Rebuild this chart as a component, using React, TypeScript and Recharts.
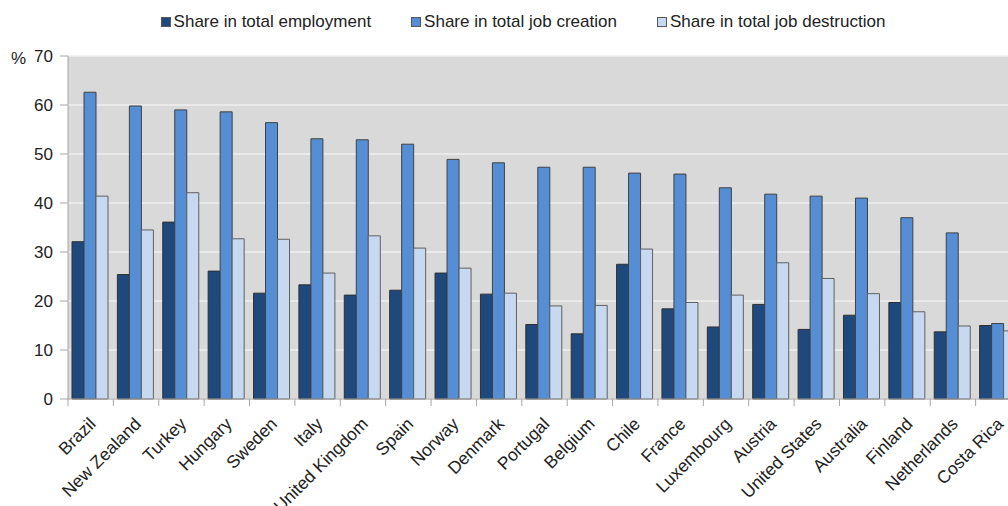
import React from 'react';
import { Bar, BarChart, CartesianGrid, Legend, XAxis, YAxis } from 'recharts';

const countries = [
  'Brazil', 'New Zealand', 'Turkey', 'Hungary', 'Sweden', 'Italy', 'United Kingdom',
  'Spain', 'Norway', 'Denmark', 'Portugal', 'Belgium', 'Chile', 'France', 'Luxembourg',
  'Austria', 'United States', 'Australia', 'Finland', 'Netherlands', 'Costa Rica',
];
const employment = [32.1, 25.4, 36.1, 26.1, 21.6, 23.3, 21.2, 22.2, 25.7, 21.4, 15.2, 13.3, 27.5, 18.4, 14.7, 19.3, 14.2, 17.1, 19.7, 13.7, 15.0];
const creation = [62.6, 59.8, 59.0, 58.6, 56.4, 53.1, 52.9, 52.0, 48.9, 48.2, 47.3, 47.3, 46.1, 45.9, 43.1, 41.8, 41.4, 41.0, 37.0, 33.9, 15.4];
const destruction = [41.4, 34.5, 42.1, 32.7, 32.6, 25.7, 33.3, 30.8, 26.7, 21.6, 19.0, 19.1, 30.6, 19.7, 21.2, 27.8, 24.6, 21.5, 17.8, 14.9, 13.9];
const yTicks = [0, 10, 20, 30, 40, 50, 60, 70];

const data = countries.map((name, i) => ({
  name,
  employment: employment[i],
  creation: creation[i],
  destruction: destruction[i],
}));

const CHART_W = 1030;
const CHART_H = 498;
const MARGIN = { top: 48, right: 17, bottom: 77, left: 0 };
const Y_W = 60;
const BAND = (CHART_W - MARGIN.left - MARGIN.right - Y_W) / countries.length;
const FONT = '"Liberation Sans", Arial, sans-serif';

// category labels sit at the band centre, tick marks at the band edges
const CountryTick = (props: any) => {
  const { x, y, payload } = props;
  const left = x - BAND / 2;
  const tx = x + 6;
  const ty = y + 16;
  return (
    <g>
      <line x1={left} y1={y - 10} x2={left} y2={y - 3} stroke="#a6a6a6" />
      <text
        x={tx}
        y={ty}
        textAnchor="end"
        fontSize={17.5}
        fill="#222"
        fontFamily={FONT}
        transform={`rotate(-45, ${tx}, ${ty})`}
      >
        {payload.value}
      </text>
    </g>
  );
};

const LegendBox = (props: any) => {
  const { payload } = props;
  return (
    <div style={{ display: 'flex', justifyContent: 'center', gap: 40, fontFamily: FONT, fontSize: 17, color: '#222' }}>
      {payload.map((p: any) => (
        <div key={p.value} style={{ display: 'flex', alignItems: 'center' }}>
          <span style={{ display: 'inline-block', width: 8, height: 8, background: p.color, border: '1px solid #595959', marginRight: 3 }} />
          <span>{p.value}</span>
        </div>
      ))}
    </div>
  );
};

export default function App() {
  // the source picture is cropped at the right and bottom, so clip to the window
  return (
    <div style={{ position: 'fixed', left: 0, top: 0, width: 1008, height: 506, overflow: 'hidden', background: '#fff' }}>
      <div style={{ position: 'absolute', left: 8, top: 8 }}>
        <BarChart width={CHART_W} height={CHART_H} data={data} margin={MARGIN} barGap={0} barCategoryGap={4}>
          <CartesianGrid fill="#d9d9d9" stroke="#efefef" strokeWidth={1.5} vertical={false} />
          <XAxis
            dataKey="name"
            interval={0}
            tick={<CountryTick />}
            tickLine={false}
            axisLine={{ stroke: '#a6a6a6' }}
            tickSize={8}
          />
          <YAxis
            width={Y_W}
            domain={[0, 70]}
            ticks={yTicks}
            interval={0}
            tick={{ fontSize: 17, fill: '#222', fontFamily: FONT }}
            tickSize={8}
            tickMargin={7}
            tickLine={{ stroke: '#a6a6a6' }}
            axisLine={{ stroke: '#a6a6a6' }}
            label={{ value: '%', position: 'insideTopLeft', offset: 3, dy: -7, fontSize: 17, fill: '#222', fontFamily: FONT }}
          />
          <Legend
            layout="horizontal"
            align="center"
            verticalAlign="middle"
            wrapperStyle={{ top: 4, left: 0, width: 1030 }}
            content={<LegendBox />}
          />
          <Bar dataKey="employment" name="Share in total employment" fill="#1f497d" stroke="#303030" isAnimationActive={false} />
          <Bar dataKey="creation" name="Share in total job creation" fill="#558ed5" stroke="#404040" isAnimationActive={false} />
          <Bar dataKey="destruction" name="Share in total job destruction" fill="#c6d9f1" stroke="#606060" isAnimationActive={false} />
        </BarChart>
      </div>
    </div>
  );
}
